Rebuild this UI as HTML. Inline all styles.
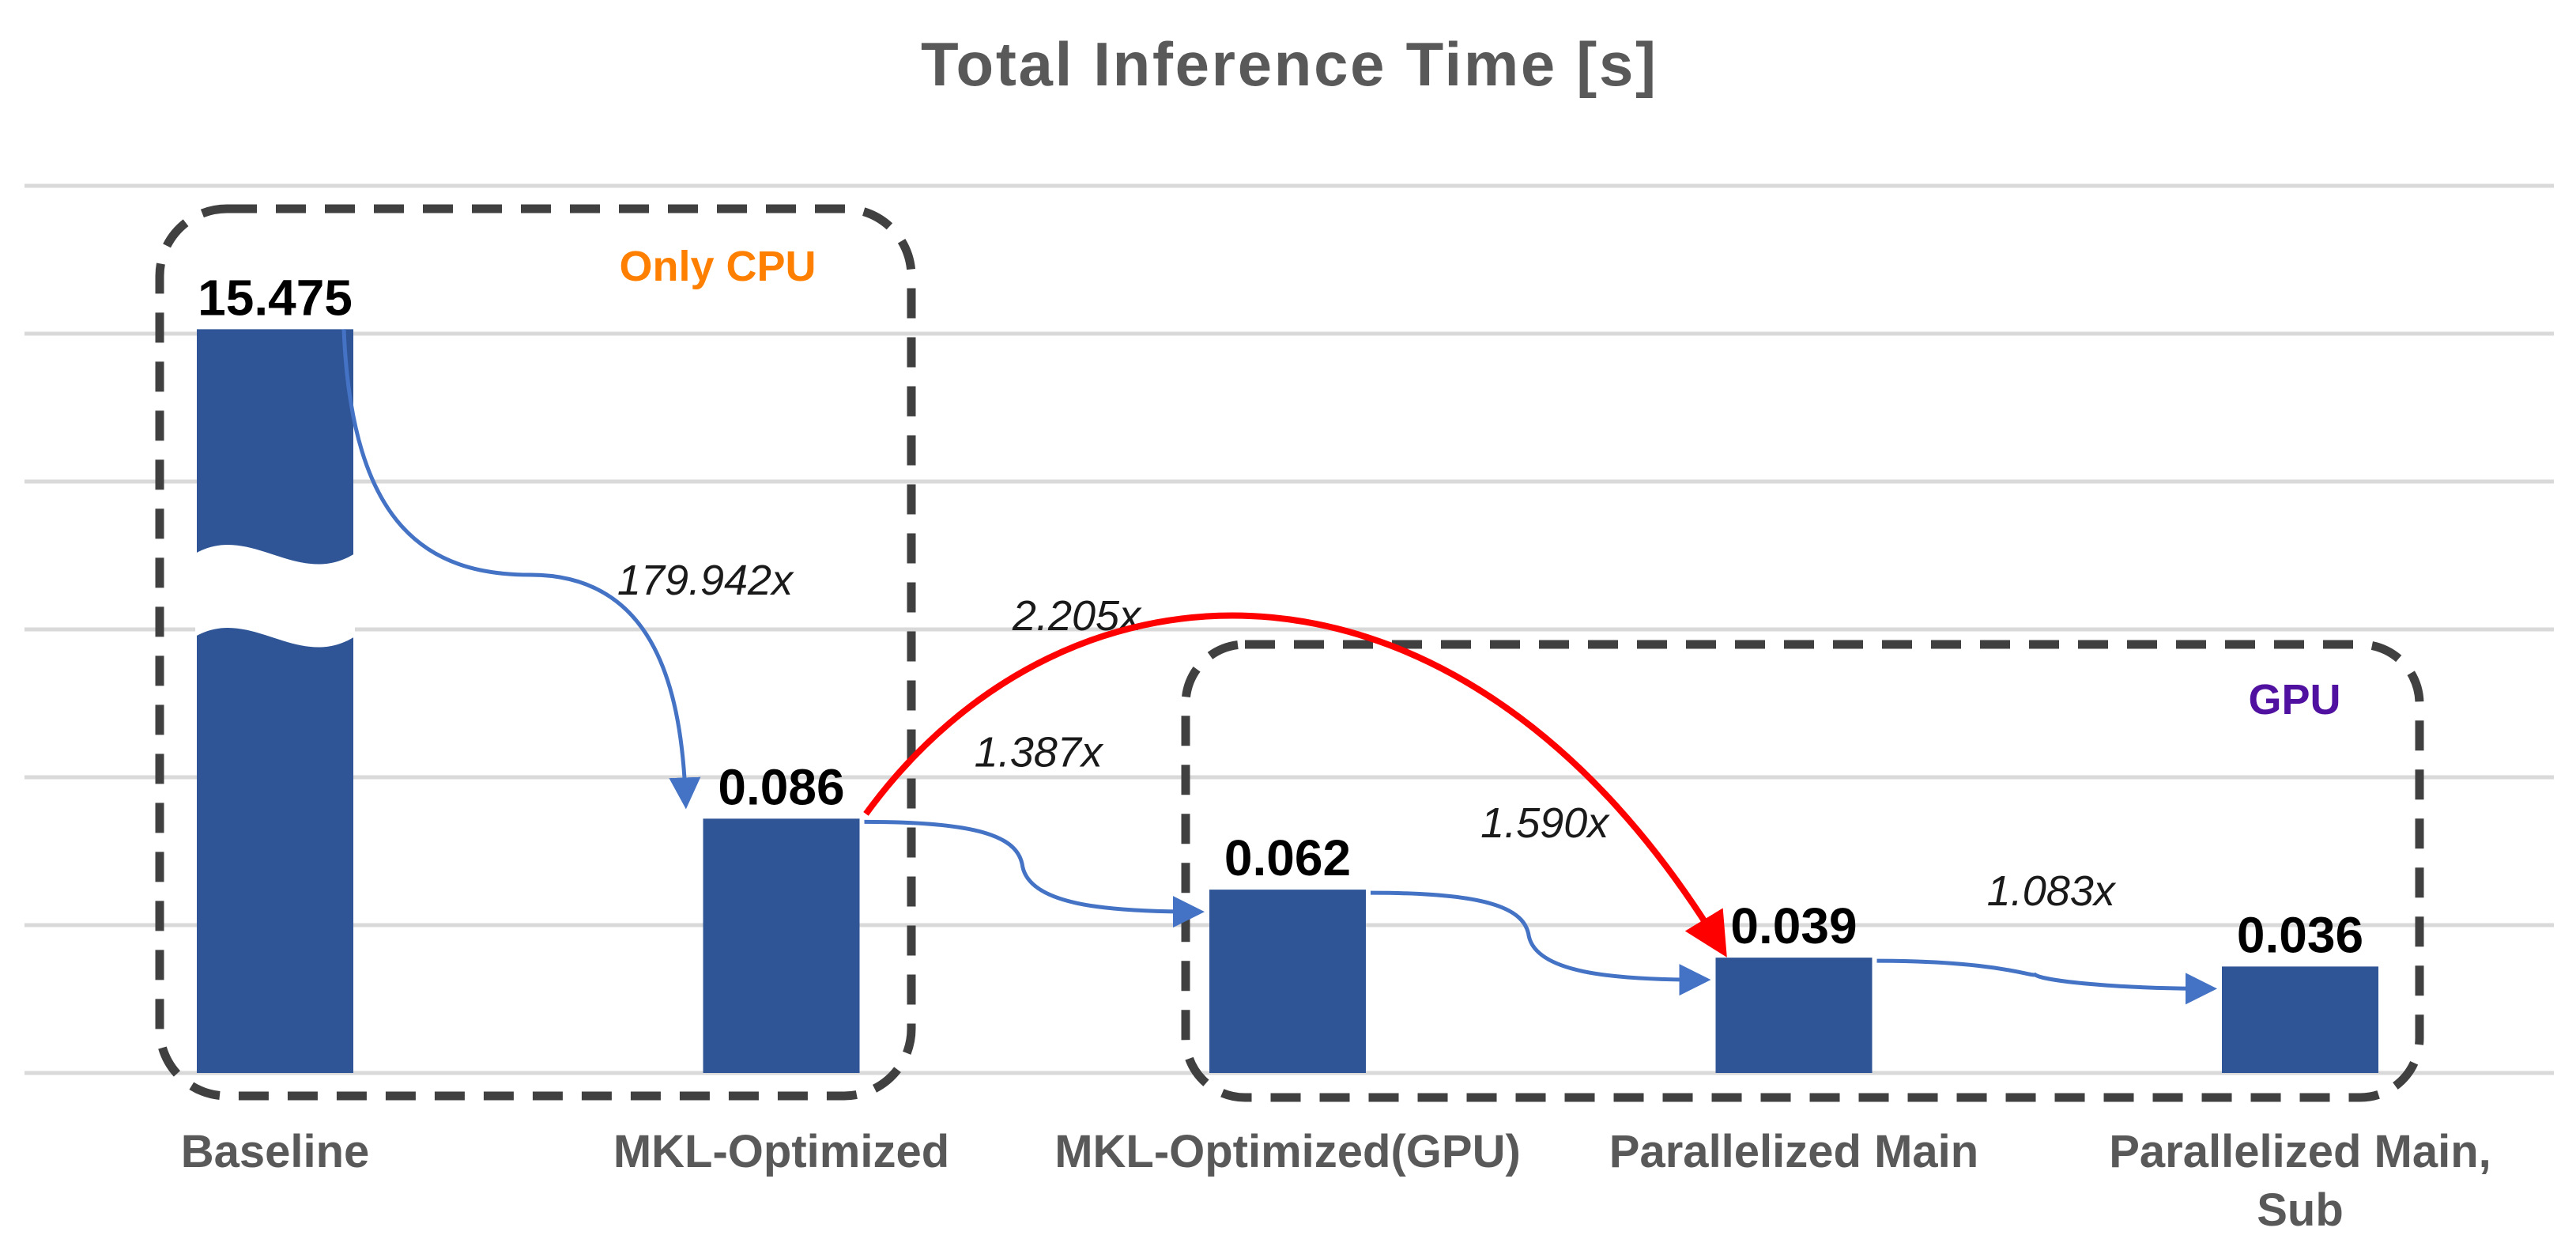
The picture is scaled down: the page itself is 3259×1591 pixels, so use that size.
<!DOCTYPE html>
<html><head><meta charset="utf-8"><style>
html,body{margin:0;padding:0;background:#fff}
svg{display:block}
</style></head><body>
<svg id="chart" width="3259" height="1591" viewBox="0 0 3259 1591" xmlns="http://www.w3.org/2000/svg">
<defs>
<marker id="blueHead" markerWidth="8" markerHeight="8" refX="6" refY="4" orient="auto" markerUnits="strokeWidth"><path d="M0,0 L8,4 L0,8 z" fill="#4472c4"/></marker>
<marker id="redHead" markerWidth="7" markerHeight="7" refX="5" refY="3.5" orient="auto" markerUnits="strokeWidth"><path d="M0,0 L7,3.5 L0,7 z" fill="#ff0000"/></marker>
</defs>
<text x="1630" y="108" text-anchor="middle" font-family="Liberation Sans, sans-serif" font-weight="bold" font-size="78" fill="#595959" textLength="930">Total Inference Time [s]</text>
<g id="grid"></g>
<g id="bars"></g>
<g id="labels"></g>
<g id="arrows"></g>
</svg>
<script>
const categories = ["Baseline", "MKL-Optimized", "MKL-Optimized(GPU)", "Parallelized Main", "Parallelized Main,|Sub"];
const values = [15.475, 0.086, 0.062, 0.039, 0.036];
const valueLabels = ["15.475", "0.086", "0.062", "0.039", "0.036"];
const gridTicks = [0, 0.05, 0.1, 0.15, 0.2, 0.25, 0.3];
const speedups = ["179.942x", "1.387x", "1.590x", "1.083x"];
const overallSpeedup = "2.205x";
const axisCap = 0.2515;

const NS = "http://www.w3.org/2000/svg";
const plotBottom = 1357, plotTop = 235, yMax = 0.3;
const yAxis = v => plotBottom - (v / yMax) * (plotBottom - plotTop);
const y = v => yAxis(Math.min(v, axisCap));
const x0 = 348, step = 640.5, barW = 198;
const xc = i => x0 + i * step;
function mk(tag, attrs, parent, text) {
  const e = document.createElementNS(NS, tag);
  for (const k in attrs) e.setAttribute(k, attrs[k]);
  if (text !== undefined) e.textContent = text;
  parent.appendChild(e);
  return e;
}
const gGrid = document.getElementById('grid');
const gBars = document.getElementById('bars');
const gLab = document.getElementById('labels');
const gArr = document.getElementById('arrows');

gridTicks.forEach(t => {
  const l = mk('line', {x1: 31, x2: 3231, y1: yAxis(t), y2: yAxis(t), stroke: '#d9d9d9', 'stroke-width': 5}, gGrid);
  
  
});

values.forEach((v, i) => {
  const top = y(v);
  const r = mk('rect', {x: xc(i) - barW / 2, y: top, width: barW, height: plotBottom - top, fill: '#2f5597'}, gBars);
  
  
  const t = mk('text', {x: xc(i), y: top - 18, 'text-anchor': 'middle', 'font-family': 'Liberation Sans, sans-serif', 'font-weight': 'bold', 'font-size': 64, fill: '#000'}, gLab, valueLabels[i]);
  
  
  const lines = categories[i].split('|');
  lines.forEach((ln, j) => {
    const c = mk('text', {x: xc(i), y: 1476 + j * 74, 'text-anchor': 'middle', 'font-family': 'Liberation Sans, sans-serif', 'font-weight': 'bold', 'font-size': 58, fill: '#595959'}, gLab, ln);
    
    
  });
});

// axis break on baseline bar
const bx = xc(0) - barW / 2 - 2, bw = barW + 4;
const brk = mk('path', {d: `M${bx},700 C${bx+70},660 ${bx+130},745 ${bx+bw},700 L${bx+bw},805 C${bx+130},850 ${bx+70},765 ${bx},805 Z`, fill: '#fff'}, gBars);



// group boxes
const b1 = mk('rect', {x: 202, y: 264, width: 951, height: 1122, rx: 85, fill: 'none', stroke: '#404040', 'stroke-width': 11, 'stroke-dasharray': '38 24'}, gArr);


const b2 = mk('rect', {x: 1500, y: 815, width: 1561, height: 573, rx: 75, fill: 'none', stroke: '#404040', 'stroke-width': 11, 'stroke-dasharray': '38 24'}, gArr);


const t1 = mk('text', {x: 908, y: 355, 'text-anchor': 'middle', 'font-family': 'Liberation Sans, sans-serif', 'font-weight': 'bold', 'font-size': 54, fill: '#ff8000'}, gLab, 'Only CPU');


const t2 = mk('text', {x: 2903, y: 903, 'text-anchor': 'middle', 'font-family': 'Liberation Sans, sans-serif', 'font-weight': 'bold', 'font-size': 54, fill: '#5010a0'}, gLab, 'GPU');



// speedup arrows between consecutive bars
const right = i => xc(i) + barW / 2, left = i => xc(i) - barW / 2;
for (let i = 0; i < 4; i++) {
  let d, lx, ly;
  if (i === 0) {
    const sx = right(0) - 12, sy = y(values[0]), ex = left(1) - 22, ey = y(values[1]) - 22;
    const mx = (sx + ex) / 2 + 60, my = 727;
    d = `M${sx},${sy} C${sx+10},${sy+250} ${mx-170},${my} ${mx-40},${my} C${mx+120},${my} ${ex-5},${my+150} ${ex},${ey}`;
    lx = 892; ly = 752;
  } else {
    const sx = right(i) + 6, sy = y(values[i]) + 4, ex = left(i + 1) - 16, ey = y(values[i + 1]) + 28;
    const mx = (sx + ex) / 2;
    d = `M${sx},${sy} C${sx+150},${sy} ${mx-15},${sy+20} ${mx-10},${(sy+ey)/2} C${mx},${ey-10} ${ex-120},${ey} ${ex},${ey}`;
    lx = mx + 10; ly = Math.min(sy, ey) - 70;
  }
  const p = mk('path', {d: d, fill: 'none', stroke: '#4472c4', 'stroke-width': 5, 'marker-end': 'url(#blueHead)'}, gArr);
  
  
  const t = mk('text', {x: lx, y: ly, 'text-anchor': 'middle', 'font-family': 'Liberation Sans, sans-serif', 'font-style': 'italic', 'font-size': 54, fill: '#1a1a1a'}, gLab, speedups[i]);
  
  
}
// overall red arrow MKL -> Parallelized Main
{
  const sx = right(1) + 8, sy = y(values[1]) - 6, ex = left(3) + 6, ey = y(values[3]) - 14;
  const d = `M${sx},${sy} C1350,680 1850,660 ${ex},${ey}`;
  const p = mk('path', {d: d, fill: 'none', stroke: '#ff0000', 'stroke-width': 8, 'marker-end': 'url(#redHead)'}, gArr);
  
  
  const t = mk('text', {x: 1362, y: 797, 'text-anchor': 'middle', 'font-family': 'Liberation Sans, sans-serif', 'font-style': 'italic', 'font-size': 54, fill: '#1a1a1a'}, gLab, overallSpeedup);
  
  
}
</script>
</body></html>
